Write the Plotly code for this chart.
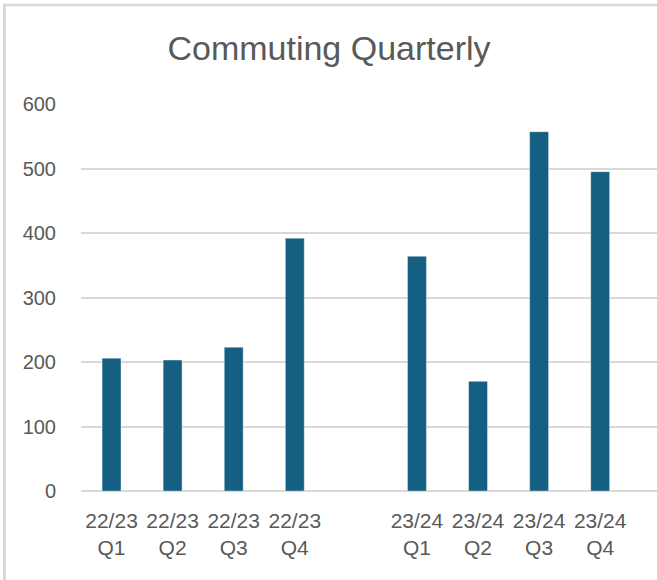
import plotly.graph_objects as go

categories = ["22/23<br>Q1", "22/23<br>Q2", "22/23<br>Q3", "22/23<br>Q4", " ",
              "23/24<br>Q1", "23/24<br>Q2", "23/24<br>Q3", "23/24<br>Q4"]
values = [206, 203, 223, 392, None, 364, 170, 557, 495]
y_ticks = [0, 100, 200, 300, 400, 500, 600]

FONT = "Liberation Sans Narrow, Arial Narrow, Liberation Sans, Arial, sans-serif"
TEXT = "#595959"
GRID = "#d9d9d9"

fig = go.Figure(go.Bar(
    x=categories, y=values,
    marker=dict(color="#156082", line=dict(color="rgba(255,255,255,0.5)", width=0.8)),
))

fig.update_layout(
    width=657, height=580,
    margin=dict(l=81, r=0, t=104, b=89),
    paper_bgcolor="white", plot_bgcolor="white",
    bargap=0.69,
    showlegend=False,
    title=dict(text="Commuting Quarterly", x=329 / 657, xref="container", xanchor="center",
               y=1 - 48 / 580, yref="container", yanchor="middle",
               font=dict(family=FONT, size=34, color=TEXT)),
    font=dict(family=FONT, color=TEXT),
    shapes=[
        dict(type="line", xref="paper", yref="paper", x0=(4.5 - 81) / 576, x1=(4.5 - 81) / 576,
             y0=(491 - 3.5) / 387, y1=(491 - 590) / 387, line=dict(color=GRID, width=3)),
        dict(type="line", xref="paper", yref="paper", x0=(3 - 81) / 576, x1=1.2,
             y0=(491 - 5) / 387, y1=(491 - 5) / 387, line=dict(color=GRID, width=2.5)),
    ],
)
fig.update_xaxes(type="category", range=[-0.5, 8.93], showgrid=False, zeroline=False,
                 showline=False, ticks="", tickfont=dict(size=21, color=TEXT),
                 ticklabelstandoff=15)
fig.update_yaxes(range=[0, 600], tickvals=y_ticks, showgrid=True, gridcolor=GRID, gridwidth=1.5,
                 zeroline=True, zerolinecolor=GRID, zerolinewidth=1.5, showline=False, ticks="",
                 tickfont=dict(size=20, color=TEXT), ticklabelstandoff=24)

fig.write_html("out.html", config={"displayModeBar": False},
               post_script="document.body.style.margin='0';")
